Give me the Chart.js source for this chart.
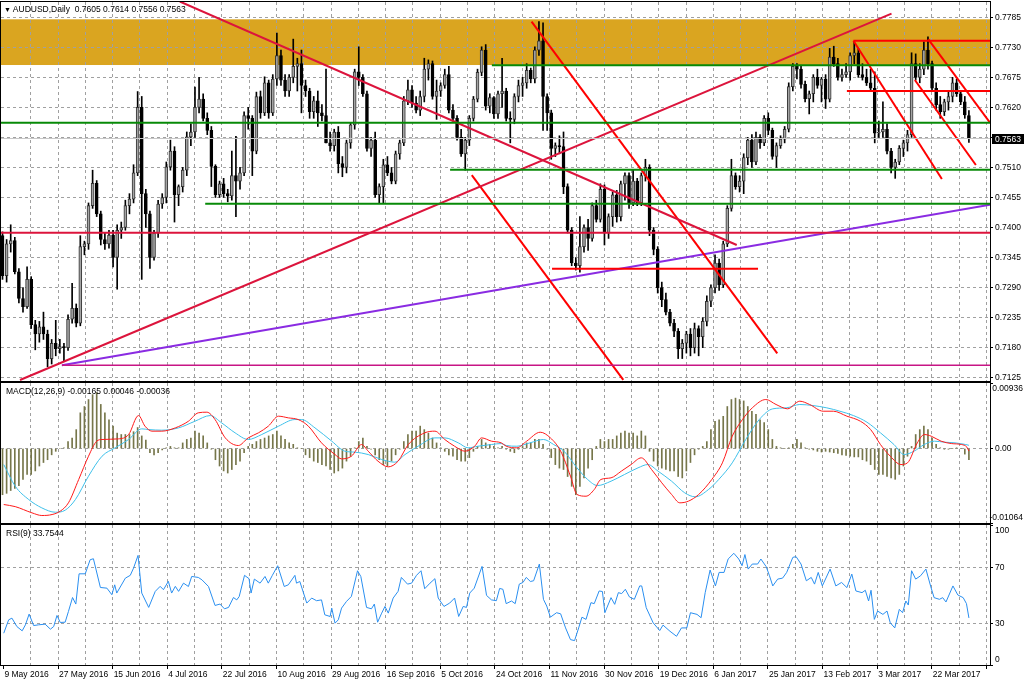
<!DOCTYPE html>
<html>
<head>
<meta charset="utf-8">
<script src="https://cdn.jsdelivr.net/npm/chart.js"></script>
<style>
html, body { margin: 0; padding: 0; background: #fff; }
#wrap { position: relative; width: 1024px; height: 683px; overflow: hidden; font-family: "Liberation Sans", Arial, sans-serif; }
canvas { position: absolute; left: 0; }
.cap { position: absolute; font-size: 8.5px; line-height: 12px; color: #000; white-space: nowrap; }
</style>
</head>
<body>
<div id="wrap">
  <canvas id="mainChart" width="1024" height="383" style="top:0;width:1024px;height:383px"></canvas>
  <canvas id="macdChart" width="1024" height="142" style="top:382px;width:1024px;height:142px"></canvas>
  <canvas id="rsiChart" width="1024" height="160" style="top:523px;width:1024px;height:160px"></canvas>
  <div class="cap" style="left:4px;top:3px"><span style="font-size:7px">&#9660;</span> AUDUSD,Daily&nbsp; 0.7605 0.7614 0.7556 0.7563</div>
  <div class="cap" style="left:6px;top:385px">MACD(12,26,9) -0.00165 0.00046 -0.00036</div>
  <div class="cap" style="left:6px;top:527px">RSI(9) 33.7544</div>
</div>
<script>
// AUDUSD daily, 9 May 2016 .. 5 Apr 2017 (one entry per bar)
const opens = [
  .7385,.7312,.7370,.7376,.7319,.7270,.7255,.7305,.7222,.7205,
  .7218,.7205,.7160,.7188,.7178,.7182,.7180,.7232,.7252,.7225,
  .7365,.7370,.7440,.7481,.7425,.7378,.7370,.7386,.7345,.7395,
  .7400,.7440,.7452,.7500,.7620,.7462,.7425,.7345,.7390,.7443,
  .7455,.7511,.7540,.7460,.7475,.7505,.7566,.7575,.7620,.7635,
  .7600,.7578,.7512,.7460,.7480,.7462,.7458,.7495,.7485,.7500,
  .7605,.7600,.7540,.7640,.7610,.7665,.7610,.7672,.7715,.7670,
  .7650,.7675,.7695,.7700,.7660,.7650,.7612,.7632,.7610,.7605,
  .7555,.7550,.7575,.7517,.7510,.7555,.7588,.7685,.7675,.7645,
  .7545,.7560,.7460,.7475,.7515,.7500,.7485,.7535,.7555,.7632,
  .7652,.7628,.7615,.7640,.7690,.7700,.7640,.7650,.7660,.7680,
  .7615,.7600,.7565,.7535,.7560,.7600,.7635,.7684,.7725,.7622,
  .7638,.7608,.7645,.7650,.7600,.7598,.7640,.7660,.7665,.7688,
  .7672,.7725,.7742,.7640,.7610,.7545,.7550,.7548,.7475,.7395,
  .7335,.7330,.7365,.7400,.7380,.7440,.7415,.7470,.7390,.7420,
  .7460,.7420,.7480,.7495,.7445,.7485,.7445,.7495,.7510,.7395,
  .7360,.7290,.7268,.7245,.7225,.7210,.7178,.7188,.7205,.7180,
  .7215,.7200,.7228,.7265,.7290,.7335,.7295,.7370,.7435,.7495,
  .7475,.7485,.7528,.7560,.7520,.7565,.7555,.7600,.7578,.7530,
  .7550,.7562,.7580,.7658,.7695,.7690,.7662,.7636,.7645,.7675,
  .7660,.7672,.7635,.7712,.7700,.7675,.7680,.7685,.7715,.7720,
  .7680,.7675,.7665,.7655,.7573,.7575,.7580,.7540,.7510,.7520,
  .7545,.7555,.7570,.7700,.7675,.7690,.7725,.7700,.7655,.7625,
  .7612,.7630,.7640,.7665,.7645,.7630,.7605
];
const highs = [
  .7392,.7378,.7405,.7382,.7325,.7290,.7328,.7310,.7230,.7228,
  .7245,.7212,.7195,.7230,.7195,.7188,.7240,.7298,.7260,.7385,
  .7375,.7445,.7505,.7486,.7430,.7390,.7395,.7395,.7405,.7410,
  .7450,.7462,.7515,.7649,.7640,.7470,.7430,.7395,.7450,.7462,
  .7520,.7560,.7548,.7478,.7510,.7575,.7590,.7657,.7675,.7645,
  .7610,.7585,.7515,.7485,.7490,.7470,.7540,.7567,.7510,.7612,
  .7620,.7605,.7648,.7650,.7676,.7670,.7680,.7756,.7725,.7680,
  .7680,.7745,.7710,.7725,.7670,.7655,.7640,.7650,.7625,.7690,
  .7575,.7580,.7585,.7530,.7560,.7592,.7690,.7731,.7680,.7650,
  .7565,.7575,.7480,.7525,.7530,.7510,.7540,.7560,.7640,.7670,
  .7660,.7640,.7650,.7710,.7707,.7705,.7670,.7665,.7690,.7695,
  .7625,.7605,.7580,.7565,.7605,.7640,.7690,.7731,.7735,.7645,
  .7640,.7650,.7710,.7655,.7612,.7645,.7670,.7675,.7700,.7692,
  .7731,.7777,.7775,.7645,.7615,.7555,.7568,.7575,.7480,.7400,
  .7345,.7420,.7405,.7415,.7445,.7450,.7480,.7478,.7425,.7465,
  .7468,.7485,.7500,.7500,.7505,.7490,.7500,.7525,.7515,.7400,
  .7365,.7300,.7280,.7250,.7232,.7215,.7195,.7210,.7215,.7225,
  .7220,.7235,.7275,.7295,.7350,.7342,.7375,.7440,.7525,.7500,
  .7495,.7535,.7565,.7570,.7575,.7570,.7605,.7610,.7582,.7555,
  .7568,.7585,.7665,.7700,.7700,.7695,.7668,.7650,.7680,.7690,
  .7675,.7680,.7728,.7732,.7710,.7690,.7700,.7720,.7741,.7728,
  .7700,.7690,.7690,.7685,.7595,.7630,.7590,.7545,.7525,.7550,
  .7560,.7578,.7720,.7718,.7700,.7740,.7749,.7705,.7665,.7640,
  .7635,.7650,.7675,.7672,.7650,.7640,.7614
];
const lows = [
  .7305,.7300,.7355,.7315,.7262,.7245,.7252,.7215,.7176,.7190,
  .7195,.7145,.7150,.7165,.7170,.7155,.7175,.7225,.7218,.7220,
  .7350,.7360,.7435,.7420,.7368,.7360,.7362,.7328,.7287,.7380,
  .7395,.7425,.7445,.7495,.7305,.7400,.7325,.7340,.7382,.7435,
  .7445,.7505,.7410,.7440,.7465,.7495,.7550,.7565,.7610,.7595,
  .7570,.7475,.7455,.7455,.7455,.7447,.7450,.7420,.7470,.7495,
  .7580,.7495,.7535,.7600,.7605,.7600,.7605,.7660,.7660,.7640,
  .7640,.7665,.7650,.7610,.7640,.7600,.7600,.7585,.7595,.7555,
  .7540,.7540,.7500,.7493,.7500,.7545,.7580,.7660,.7640,.7540,
  .7530,.7455,.7445,.7444,.7495,.7480,.7480,.7525,.7550,.7625,
  .7620,.7610,.7605,.7630,.7670,.7635,.7598,.7640,.7655,.7610,
  .7595,.7560,.7530,.7505,.7550,.7595,.7630,.7678,.7615,.7610,
  .7600,.7600,.7620,.7595,.7555,.7590,.7630,.7640,.7655,.7665,
  .7665,.7715,.7578,.7578,.7525,.7530,.7535,.7462,.7390,.7330,
  .7322,.7318,.7355,.7358,.7375,.7410,.7410,.7368,.7380,.7402,
  .7410,.7412,.7450,.7435,.7440,.7440,.7440,.7485,.7385,.7350,
  .7280,.7255,.7240,.7220,.7200,.7160,.7160,.7170,.7165,.7170,
  .7165,.7180,.7220,.7255,.7280,.7285,.7290,.7365,.7430,.7470,
  .7465,.7462,.7515,.7510,.7515,.7545,.7550,.7570,.7525,.7510,
  .7545,.7555,.7575,.7650,.7672,.7655,.7630,.7608,.7630,.7655,
  .7630,.7618,.7630,.7695,.7670,.7668,.7675,.7670,.7700,.7675,
  .7670,.7660,.7650,.7555,.7565,.7565,.7535,.7500,.7490,.7515,
  .7530,.7540,.7565,.7670,.7665,.7680,.7690,.7650,.7615,.7600,
  .7605,.7615,.7630,.7640,.7625,.7600,.7556
];
const closes = [
  .7312,.7370,.7376,.7319,.7270,.7255,.7305,.7222,.7205,.7218,
  .7205,.7160,.7188,.7178,.7182,.7180,.7232,.7252,.7225,.7365,
  .7370,.7440,.7481,.7425,.7378,.7370,.7386,.7345,.7395,.7400,
  .7440,.7452,.7500,.7620,.7462,.7425,.7345,.7390,.7443,.7455,
  .7511,.7540,.7460,.7475,.7505,.7566,.7575,.7620,.7635,.7600,
  .7578,.7512,.7460,.7480,.7462,.7458,.7495,.7485,.7500,.7605,
  .7600,.7540,.7640,.7610,.7665,.7610,.7672,.7715,.7670,.7650,
  .7675,.7695,.7700,.7660,.7650,.7612,.7632,.7610,.7605,.7555,
  .7550,.7575,.7517,.7510,.7555,.7588,.7685,.7675,.7645,.7545,
  .7560,.7460,.7475,.7515,.7500,.7485,.7535,.7555,.7632,.7652,
  .7628,.7615,.7640,.7690,.7700,.7640,.7650,.7660,.7680,.7615,
  .7600,.7565,.7535,.7560,.7600,.7635,.7684,.7725,.7622,.7638,
  .7608,.7645,.7650,.7600,.7598,.7640,.7660,.7665,.7688,.7672,
  .7725,.7742,.7640,.7610,.7545,.7550,.7548,.7475,.7395,.7335,
  .7330,.7365,.7400,.7380,.7440,.7415,.7470,.7390,.7420,.7460,
  .7420,.7480,.7495,.7445,.7485,.7445,.7495,.7510,.7395,.7360,
  .7290,.7268,.7245,.7225,.7210,.7178,.7188,.7205,.7180,.7215,
  .7200,.7228,.7265,.7290,.7335,.7295,.7370,.7435,.7495,.7475,
  .7485,.7528,.7560,.7520,.7565,.7555,.7600,.7578,.7530,.7550,
  .7562,.7580,.7658,.7695,.7690,.7662,.7636,.7645,.7675,.7660,
  .7672,.7635,.7712,.7700,.7675,.7680,.7685,.7715,.7720,.7680,
  .7675,.7665,.7655,.7573,.7575,.7580,.7540,.7510,.7520,.7545,
  .7555,.7570,.7700,.7675,.7690,.7725,.7700,.7655,.7625,.7612,
  .7630,.7640,.7665,.7645,.7630,.7606,.7563
];

// MACD histogram, one per bar
const macdHist = [
  -0.0066,-0.0064,-0.0060,-0.0057,-0.0053,-0.0044,-0.0037,-0.0037,-0.0032,-0.0025,
  -0.0020,-0.0016,-0.0009,-0.0004,0.0000,0.0001,0.0010,0.0015,0.0027,0.0051,
  0.0060,0.0070,0.0077,0.0080,0.0063,0.0051,0.0041,0.0032,0.0022,0.0020,
  0.0020,0.0020,0.0024,0.0030,0.0018,0.0012,-0.0006,-0.0009,-0.0006,-0.0002,
  0.0001,0.0003,0.0001,0.0001,0.0008,0.0013,0.0015,0.0025,0.0022,0.0018,
  0.0008,-0.0001,-0.0016,-0.0025,-0.0032,-0.0035,-0.0030,-0.0023,-0.0018,-0.0006,
  0.0003,0.0006,0.0010,0.0013,0.0015,0.0018,0.0020,0.0025,0.0018,0.0013,
  0.0008,0.0006,0.0001,0.0000,-0.0009,-0.0013,-0.0018,-0.0020,-0.0023,-0.0025,
  -0.0030,-0.0035,-0.0032,-0.0028,-0.0018,-0.0011,0.0001,0.0010,0.0015,0.0003,
  -0.0001,-0.0009,-0.0016,-0.0023,-0.0025,-0.0018,-0.0009,-0.0001,0.0010,0.0020,
  0.0025,0.0025,0.0032,0.0027,0.0022,0.0015,0.0008,0.0001,-0.0004,-0.0009,
  -0.0011,-0.0016,-0.0018,-0.0018,-0.0013,-0.0004,0.0003,0.0013,0.0008,0.0006,
  0.0003,0.0001,0.0003,-0.0001,-0.0004,-0.0006,-0.0001,0.0003,0.0008,0.0008,
  0.0013,0.0013,0.0006,-0.0001,-0.0013,-0.0023,-0.0028,-0.0030,-0.0040,-0.0054,
  -0.0066,-0.0054,-0.0042,-0.0028,-0.0016,0.0003,0.0013,0.0010,0.0013,0.0013,
  0.0018,0.0022,0.0025,0.0022,0.0022,0.0018,0.0025,0.0018,-0.0004,-0.0018,
  -0.0025,-0.0028,-0.0030,-0.0032,-0.0032,-0.0040,-0.0042,-0.0032,-0.0020,-0.0009,
  -0.0001,0.0003,0.0010,0.0027,0.0039,0.0041,0.0046,0.0060,0.0070,0.0072,
  0.0070,0.0068,0.0060,0.0053,0.0049,0.0041,0.0037,0.0027,0.0013,0.0003,
  0.0001,0.0000,0.0001,0.0006,0.0013,0.0008,0.0001,-0.0001,-0.0002,-0.0004,
  -0.0005,-0.0004,-0.0005,-0.0006,-0.0007,-0.0009,-0.0010,-0.0011,-0.0012,-0.0012,
  -0.0016,-0.0018,-0.0023,-0.0030,-0.0037,-0.0037,-0.0040,-0.0042,-0.0044,-0.0037,
  -0.0025,-0.0011,0.0003,0.0020,0.0027,0.0032,0.0027,0.0015,0.0006,0.0001,
  -0.0001,-0.0001,0.0000,0.0001,0.0000,-0.0008,-0.0016
];

// MACD main line (red), read at these bar positions
const macdX = [0.3,3.1,7.2,9.6,12.1,14.1,16.1,18.6,21.0,23.0,24.3,28.3,30.8,33.2,34.8,36.5,38.9,42.2,45.4,47.8,
  49.9,51.9,54.4,57.6,60.0,62.5,64.9,67.4,69.8,72.2,74.7,77.9,81.2,82.8,85.2,87.7,89.3,91.7,94.2,96.6,
  99.1,103.1,105.6,108.0,110.4,112.9,115.3,117.0,119.4,121.8,123.0,125.6,128.0,131.3,133.8,136.3,138.7,140.3,142.5,144.5,
  146.1,148.6,151.1,153.5,156.0,158.5,161.0,163.4,165.4,167.5,170.0,173.2,175.8,178.2,180.7,183.1,186.4,188.9,191.7,194.7,
  197.1,200.4,202.9,206.2,209.5,212.0,214.4,216.8,219.4,221.0,223.4,225.1,226.8,229.2,231.7,234.2,235.5,236];
const macdLine = [-0.00800,-0.00830,-0.00919,-0.00957,-0.00943,-0.00895,-0.00776,-0.00443,-0.00110,0.00105,0.00129,0.00138,0.00200,0.00471,0.00319,0.00248,0.00248,0.00295,0.00390,0.00510,
  0.00519,0.00414,0.00152,0.00043,0.00152,0.00224,0.00319,0.00462,0.00438,0.00414,0.00319,0.00081,-0.00086,-0.00148,-0.00110,0.00057,-0.00038,-0.00181,-0.00262,-0.00181,
  0.00057,0.00224,0.00248,0.00129,0.00033,-0.00038,0.00033,0.00152,0.00105,0.00081,0.00033,0.00010,0.00105,0.00233,0.00152,-0.00038,-0.00395,-0.00657,-0.00681,-0.00586,
  -0.00443,-0.00419,-0.00324,-0.00229,-0.00133,-0.00300,-0.00490,-0.00657,-0.00776,-0.00752,-0.00657,-0.00443,-0.00205,0.00176,0.00414,0.00581,0.00700,0.00629,0.00567,0.00676,
  0.00629,0.00533,0.00533,0.00462,0.00390,0.00271,0.00057,-0.00110,-0.00229,-0.00205,0.00081,0.00200,0.00176,0.00105,0.00071,0.00057,0.00020,-0.00036];

// MACD signal line (light blue)
const signalX = [0.3,3.1,6.4,9.6,12.9,15.3,17.8,21.0,24.3,27.5,30.8,34.0,35.7,38.9,43.0,47.0,50.7,53.5,56.8,60.0,
  63.3,67.4,71.4,73.0,76.3,80.4,83.6,86.1,89.3,92.6,95.8,98.3,101.5,105.6,108.0,111.3,113.7,116.1,119.4,121.8,
  123.0,125.6,128.8,132.1,134.6,137.1,140.3,142.9,145.3,148.6,151.9,155.2,157.6,160.1,163.4,166.6,169.2,172.4,174.9,178.2,
  181.5,184.8,188.1,191.4,194.7,197.9,201.3,204.5,207.8,211.1,214.4,217.7,220.2,222.6,225.1,227.6,230.1,232.6,235.2,236];
const signalLine = [-0.00229,-0.00538,-0.00729,-0.00848,-0.00910,-0.00881,-0.00729,-0.00395,-0.00110,0.00010,0.00129,0.00281,0.00271,0.00262,0.00295,0.00390,0.00471,0.00367,0.00224,0.00129,
  0.00200,0.00319,0.00414,0.00414,0.00295,0.00105,-0.00038,-0.00052,-0.00086,-0.00157,-0.00195,-0.00086,0.00033,0.00152,0.00152,0.00081,0.00010,0.00033,0.00057,0.00071,
  0.00043,0.00033,0.00081,0.00129,0.00057,-0.00038,-0.00276,-0.00443,-0.00529,-0.00467,-0.00371,-0.00276,-0.00229,-0.00324,-0.00467,-0.00633,-0.00690,-0.00586,-0.00443,-0.00205,
  0.00129,0.00414,0.00567,0.00581,0.00629,0.00614,0.00581,0.00533,0.00471,0.00376,0.00224,0.00057,-0.00086,-0.00038,0.00057,0.00105,0.00090,0.00081,0.00057,0.00046];

// RSI(9), read at these bar positions
const rsiX = [0.3,1.5,2.3,3.5,4.8,5.6,6.5,7.6,8.8,10.4,11.7,12.5,13.3,14.1,15.3,16.1,17.1,17.9,18.7,20.2,
  21.4,22.2,23.9,25.5,26.7,27.4,27.9,30.0,31.2,32.0,33.1,34.0,35.7,37.3,38.5,39.3,40.5,41.3,42.2,43.0,
  44.2,45.4,46.2,47.8,48.7,50.3,51.9,53.1,54.2,55.2,56.4,57.2,57.8,59.1,60.2,60.7,61.5,62.9,64.1,64.9,
  65.9,67.2,68.8,69.8,71.4,71.8,72.6,74.3,75.5,76.7,77.9,78.7,80.0,80.4,81.2,82.0,82.8,84.0,85.2,86.7,
  87.5,88.9,90.1,90.8,91.6,92.6,93.4,94.2,95.4,96.6,97.4,98.9,99.9,101.1,102.2,103.1,104.4,105.6,106.4,107.8,
  109.2,110.4,111.4,112.5,113.3,114.1,115.2,117.1,118.2,119.4,120.6,
  121.4,122.2,123.0,124.3,125.2,126.2,127.1,127.9,128.9,129.7,131.1,132.1,132.9,133.8,135.3,136.3,137.5,138.7,139.7,140.7,
  141.5,142.5,143.7,144.5,145.7,146.5,147.1,148.6,149.5,150.4,151.2,152.1,153.1,154.3,155.6,156.1,157.2,158.9,160.5,161.3,
  163.0,164.6,165.8,167.1,168.0,169.6,170.6,171.6,172.8,174.1,175.0,176.2,177.2,178.6,179.8,180.6,181.3,182.1,183.1,184.4,
  185.2,186.5,187.3,188.1,189.3,190.5,191.5,193.0,193.8,195.0,196.3,197.5,198.3,199.2,200.2,202.1,203.5,204.9,206.2,207.4,
  208.4,209.9,210.7,211.5,212.1,212.9,213.7,215.0,216.0,216.8,217.9,219.0,219.8,220.6,221.2,222.0,223.0,224.2,225.5,226.7,
  227.5,228.8,229.6,230.4,232.1,233.3,234.6,235.4,236];
const rsiValues = [22.8,32.4,33.6,27.6,24.5,28.8,36.5,28.3,28.8,29.3,25.7,27.6,35.5,30.5,30.7,38.4,48.4,43.7,65.4,65.4,
  75.5,76.2,55.6,55.1,50.4,57.5,51.6,62.3,64.3,69.5,78.6,51.6,41.3,52.8,56.4,54.0,60.0,51.6,56.4,52.8,
  58.7,56.3,63.5,62.8,61.1,56.3,42.7,43.7,40.3,41.3,48.4,46.7,49.1,64.3,61.9,51.6,61.6,58.7,63.5,58.7,
  64.3,71.2,56.3,57.5,64.3,58.7,59.9,44.4,48.0,46.1,46.7,36.0,34.8,40.8,30.0,32.4,40.8,45.6,49.2,67.6,
  63.5,41.3,40.3,43.7,30.7,37.2,42.0,37.2,48.0,52.8,62.8,58.0,58.7,64.3,67.6,54.7,58.7,61.9,48.0,42.0,
  44.4,48.0,34.8,42.0,41.3,51.6,55.1,70.7,49.9,46.7,46.1,
  54.9,54.3,44.0,45.9,44.0,58.0,59.2,62.8,59.9,60.4,72.4,47.1,42.3,34.3,37.5,36.7,26.6,18.2,17.5,26.6,
  34.3,32.7,44.7,44.0,53.1,52.7,37.5,48.3,43.5,51.9,51.2,54.3,48.8,47.1,56.7,56.7,41.1,30.2,24.7,28.6,
  24.2,20.6,26.6,26.6,37.5,36.3,33.9,51.9,68.1,56.7,66.4,66.4,76.0,80.1,76.0,71.2,79.2,68.8,72.4,72.4,
  76.0,70.5,64.0,56.7,61.6,62.3,66.4,77.2,77.7,72.4,60.4,62.8,58.0,66.4,56.7,68.8,56.7,59.2,55.5,65.2,
  53.1,51.9,53.6,45.9,53.6,32.7,38.7,36.3,38.7,30.2,26.6,39.9,37.5,45.9,43.0,67.6,61.6,64.0,68.8,56.0,
  48.3,47.1,48.3,45.2,56.7,50.2,48.3,44.0,33.75];

// tick labels
const priceTicks = [0.7785, 0.7730, 0.7675, 0.7620, 0.7565, 0.7510, 0.7455, 0.7400, 0.7345, 0.7290, 0.7235, 0.7180, 0.7125];
const macdTicks = [0.00936, 0, -0.01064];
const macdTickLabels = ['0.00936', '0.00', '-0.01064'];
const rsiTicks = [100, 70, 30, 0];
const dateLabels = ['9 May 2016', '27 May 2016', '15 Jun 2016', '4 Jul 2016', '22 Jul 2016', '10 Aug 2016',
  '29 Aug 2016', '16 Sep 2016', '5 Oct 2016', '24 Oct 2016', '11 Nov 2016', '30 Nov 2016', '19 Dec 2016',
  '6 Jan 2017', '25 Jan 2017', '13 Feb 2017', '3 Mar 2017', '22 Mar 2017'];

// drawn objects: [price, first bar, last bar] (null = chart edge)
const greenLevels = [[0.7697, 119.5, null], [0.7592, null, null], [0.7506, 109.3, null], [0.74436, 49.5, null]];
const redLevels = [[0.77421, 207.8, null], [0.7650, 206.2, null], [0.73246, 134.2, 184.5]];
const crimsonLevel = [0.73905, null, null];
const supportLevel = [0.71476, 14.5, null];
const zoneHigh = 0.77813, zoneLow = 0.76976;
// trend lines: [bar, price, bar, price]
const crimsonTrends = [[4.27, 0.71207, 217.1, 0.77917], [43.3, 0.78139, 179.3, 0.73680]];
const redTrends = [[129.2, 0.77769, 189.2, 0.71696], [114.6, 0.74961, 151.6, 0.71211],
  [207.8, 0.77421, 229.4, 0.74888], [226.1, 0.77447, 241.15, 0.75920], [222.8, 0.76702, 237.7, 0.75145]];
const purpleTrend = [14.5, 0.71476, 241.15, 0.74418];

// ---- chart setup ----
const FONT = '"Liberation Sans", Arial, sans-serif';
Chart.defaults.font.family = FONT;
Chart.defaults.font.size = 8.5;
Chart.defaults.color = '#000';

const xMin = -0.37, xMax = 241.15;
const gridStart = 0.22, gridStep = 6.668;   // vertical grid every ~6.7 bars
const GRID = '#a0a0a0';
const bars = closes.map((c, i) => i);

// keep the plot area exactly where the layout padding puts it
function noPad(s) { s.paddingTop = 0; s.paddingBottom = 0; s.paddingLeft = 0; s.paddingRight = 0; }

function xAxis(showDates) {
  return {
    type: 'linear', min: xMin, max: xMax, offset: false,
    afterBuildTicks: s => {
      const t = [];
      for (let k = 0; gridStart + k * gridStep <= xMax; k++) t.push({ value: gridStart + k * gridStep });
      s.ticks = t;
    },
    grid: {
      offset: false,
      color: c => c.index === 0 ? 'rgba(0,0,0,0)' : GRID,
      drawTicks: showDates, tickLength: 4,
      tickColor: c => c.index % 2 === 0 ? '#000' : 'rgba(0,0,0,0)'
    },
    border: { display: false, dash: [3, 3] },
    ticks: {
      display: showDates, autoSkip: false, maxRotation: 0, align: 'start', padding: 1, labelOffset: 1,
      callback: (v, i) => i % 2 === 0 ? (dateLabels[i / 2] || '') : ''
    },
    afterFit: s => { s.height = showDates ? 18 : 0; noPad(s); }
  };
}

const framePlugin = {
  id: 'frame',
  afterDraw(chart) {
    const { ctx, chartArea: a } = chart;
    ctx.save();
    ctx.strokeStyle = '#000';
    ctx.lineWidth = 1;
    ctx.strokeRect(Math.round(a.left) - 0.5, Math.round(a.top) - 0.5,
      Math.round(a.right - a.left) + 1, Math.round(a.bottom - a.top) + 1);
    ctx.restore();
  }
};

// y labels kept inside the sub-window, like the terminal does
const sideLabels = {
  id: 'sideLabels',
  afterDraw(chart, args, opts) {
    if (!opts || !opts.values) return;
    const { ctx, chartArea: a, scales: { y } } = chart;
    ctx.save();
    ctx.font = '8.5px ' + FONT;
    ctx.fillStyle = '#000';
    ctx.textBaseline = 'middle';
    opts.values.forEach((v, k) => {
      let py = y.getPixelForValue(v);
      py = Math.min(Math.max(py, a.top + 6), a.bottom - 5);
      const txt = opts.labels[k];
      // long labels start closer to the frame so they stay on the page
      const w = ctx.measureText(txt).width;
      const x = Math.min(a.right + 5, chart.width - w - 1);
      ctx.fillText(txt, x, py);
    });
    ctx.restore();
  }
};

const zonePlugin = {
  id: 'zone',
  beforeDraw(chart) {
    const { ctx, chartArea: a, scales: { y } } = chart;
    const t = y.getPixelForValue(zoneHigh), b = y.getPixelForValue(zoneLow);
    ctx.save();
    ctx.fillStyle = '#daa520';
    ctx.fillRect(a.left, t, a.right - a.left, b - t);
    ctx.restore();
  }
};

const bidBox = {
  id: 'bidBox',
  afterDraw(chart) {
    const { ctx, chartArea: a, scales: { y } } = chart;
    const last = closes[closes.length - 1];
    const py = Math.round(y.getPixelForValue(last));
    ctx.save();
    ctx.fillStyle = '#000';
    ctx.fillRect(a.right + 2, py - 5, 32, 10);
    ctx.fillStyle = '#fff';
    ctx.font = '8.5px ' + FONT;
    ctx.textBaseline = 'middle';
    ctx.fillText(last.toFixed(4), a.right + 5, py + 0.5);
    ctx.restore();
  }
};

function seg(x1, y1, x2, y2, color, width) {
  return {
    type: 'line',
    data: [{ x: x1 === null ? xMin : x1, y: y1 }, { x: x2 === null ? xMax : x2, y: y2 }],
    borderColor: color, borderWidth: width, pointRadius: 0, fill: false, order: 0
  };
}
const level = (l, color, width) => seg(l[1], l[0], l[2], l[0], color, width);

const objects = [
  level([closes[closes.length - 1], null, null], '#c8c8c8', 1),
  ...greenLevels.map(l => level(l, '#078a07', 2)),
  level(crimsonLevel, '#dc143c', 2),
  level(supportLevel, '#c71585', 1.5),
  ...redLevels.map(l => level(l, '#ff0000', 2)),
  ...crimsonTrends.map(t => seg(t[0], t[1], t[2], t[3], '#dc143c', 2)),
  ...redTrends.map(t => seg(t[0], t[1], t[2], t[3], '#ff0000', 2)),
  seg(purpleTrend[0], purpleTrend[1], purpleTrend[2], purpleTrend[3], '#8a2be2', 2)
];

new Chart(document.getElementById('mainChart'), {
  type: 'bar',
  data: {
    datasets: [
      ...objects,
      {
        data: bars.map(i => ({ x: i, y: [opens[i], closes[i]] })),
        backgroundColor: bars.map(i => closes[i] >= opens[i] ? '#a4a4a4' : '#000'),
        borderColor: bars.map(i => closes[i] >= opens[i] ? '#333' : '#000'),
        borderWidth: 1, borderSkipped: false,
        barThickness: 3, minBarLength: 1, grouped: false, order: 2
      },
      {
        data: bars.map(i => ({ x: i, y: [lows[i], highs[i]] })),
        backgroundColor: '#000', borderWidth: 0,
        barThickness: 1, grouped: false, order: 3
      }
    ]
  },
  options: {
    responsive: false, animation: false, maintainAspectRatio: false,
    layout: { padding: { left: 1, right: 0, top: 2, bottom: 2 } },
    plugins: { legend: { display: false }, tooltip: { enabled: false } },
    scales: {
      x: xAxis(false),
      y: {
        position: 'right', min: 0.71189, max: 0.78130,
        afterBuildTicks: s => { s.ticks = priceTicks.map(v => ({ value: v })); },
        ticks: { autoSkip: false, padding: 2, callback: v => v.toFixed(4) },
        grid: { color: GRID, tickLength: 3, tickColor: '#000' },
        border: { display: false, dash: [3, 3] },
        afterFit: s => { s.width = 34; noPad(s); }
      }
    }
  },
  plugins: [zonePlugin, framePlugin, bidBox]
});

new Chart(document.getElementById('macdChart'), {
  type: 'bar',
  data: {
    datasets: [
      {
        type: 'line', data: macdX.map((x, k) => ({ x, y: macdLine[k] })),
        borderColor: '#ff1a1a', borderWidth: 1, pointRadius: 0, cubicInterpolationMode: 'monotone', order: 0
      },
      {
        type: 'line', data: signalX.map((x, k) => ({ x, y: signalLine[k] })),
        borderColor: '#3ec0ea', borderWidth: 1, pointRadius: 0, cubicInterpolationMode: 'monotone', order: 1
      },
      {
        data: bars.map(i => ({ x: i, y: macdHist[i] })),
        backgroundColor: '#76764a', borderWidth: 0, barThickness: 1, grouped: false, order: 2
      }
    ]
  },
  options: {
    responsive: false, animation: false, maintainAspectRatio: false,
    layout: { padding: { left: 1, right: 0, top: 1, bottom: 1 } },
    plugins: {
      legend: { display: false }, tooltip: { enabled: false },
      sideLabels: { values: macdTicks, labels: macdTickLabels }
    },
    scales: {
      x: xAxis(false),
      y: {
        position: 'right', min: -0.01064, max: 0.00936,
        afterBuildTicks: s => { s.ticks = macdTicks.map(v => ({ value: v })); },
        ticks: { display: false },
        grid: { color: c => c.tick && c.tick.value === 0 ? GRID : 'rgba(0,0,0,0)', tickLength: 3, tickColor: '#000' },
        border: { display: false, dash: [3, 3] },
        afterFit: s => { s.width = 34; noPad(s); }
      }
    }
  },
  plugins: [framePlugin, sideLabels]
});

new Chart(document.getElementById('rsiChart'), {
  type: 'line',
  data: {
    datasets: [{
      data: rsiX.map((x, k) => ({ x, y: rsiValues[k] })),
      borderColor: '#2a8ff0', borderWidth: 1, pointRadius: 0, tension: 0, fill: false
    }]
  },
  options: {
    responsive: false, animation: false, maintainAspectRatio: false,
    layout: { padding: { left: 1, right: 0, top: 2, bottom: 0 } },
    plugins: {
      legend: { display: false }, tooltip: { enabled: false },
      sideLabels: { values: rsiTicks, labels: rsiTicks.map(String) }
    },
    scales: {
      x: xAxis(true),
      y: {
        position: 'right', min: 0, max: 100.4,
        afterBuildTicks: s => { s.ticks = rsiTicks.map(v => ({ value: v })); },
        ticks: { display: false },
        grid: { color: c => c.tick && (c.tick.value === 30 || c.tick.value === 70) ? GRID : 'rgba(0,0,0,0)', tickLength: 3, tickColor: '#000' },
        border: { display: false, dash: [3, 3] },
        afterFit: s => { s.width = 34; noPad(s); }
      }
    }
  },
  plugins: [framePlugin, sideLabels]
});
</script>
</body>
</html>
